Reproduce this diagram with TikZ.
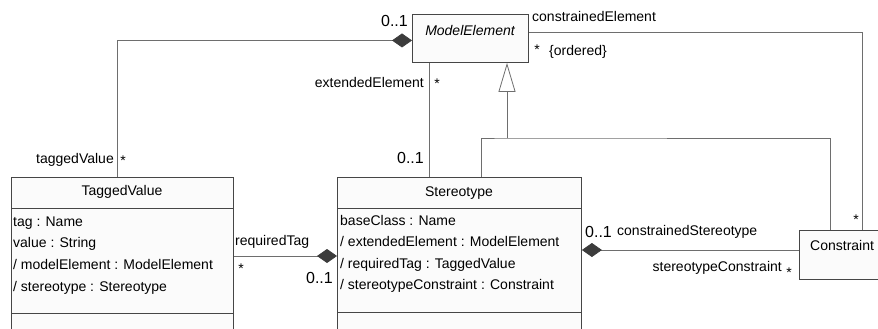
\documentclass[tikz,border=0pt]{standalone}
\usepackage{fontspec}
\setmainfont{Liberation Sans}
\usetikzlibrary{positioning,calc,arrows.meta}
\definecolor{boxline}  {RGB}{ 70, 70, 70}
\definecolor{wire}     {RGB}{110,110,110}
\definecolor{boxfill}  {RGB}{251,251,251}
\definecolor{diamond}  {RGB}{ 60, 60, 60}
\tikzset{%
  classbox/.style = {
    draw = boxline,
    fill = boxfill,
    line width = 0.9pt,
    anchor = north west,
    inner sep = 0pt,
  },
  classline/.style = {
    draw = boxline,
    line width = 0.9pt,
  },
  lbl/.style = {
    font = \fontsize{14}{16}\selectfont,
    inner sep = 0pt,
    text height = 10pt,
    text depth = 3pt,
  },
  mult/.style = {
    font = \fontsize{16}{18}\selectfont,
    inner sep = 0pt,
    text height = 11.5pt,
    text depth = 0pt,
  },
  star/.style = {
    font = \fontsize{14}{16}\selectfont,
    inner sep = 0pt,
  },
  attr/.style = {
    font = \fontsize{14}{16}\selectfont,
    inner sep = 0pt,
    anchor = base west,
  },
  assoc/.style = {
    draw = wire,
    line width = 0.8pt,
  },
  comp/.style = {
    assoc,
    {Diamond[length=20pt,width=14pt,fill=diamond,color=diamond]}-,
  },
  gen/.style = {
    assoc,
    -{Triangle[open,length=29pt,width=17pt,fill=white,color=wire]},
  },
}

\begin{document}
\begin{tikzpicture}[x=1pt, y=-1pt]
  \clip (0,0) rectangle (878,329);

  % classes
  \node[classbox, minimum width=116pt, minimum height=48pt] (me) at (412,14) {};
  \node[lbl, font=\fontsize{14}{16}\selectfont\itshape] (me-name) at (470,32) {ModelElement};

  \node[classbox, minimum width=222pt, minimum height=170pt] (tv) at (11,177) {};
  \node[lbl] (tv-name) at (122,192) {TaggedValue};
  \draw[classline] ([yshift=-31pt]tv.north west) -- ([yshift=-31pt]tv.north east);
  \draw[classline] ([yshift=-136pt]tv.north west) -- ([yshift=-136pt]tv.north east);
  \foreach \a [count=\i] in {tag : Name, value : String,
      / modelElement : ModelElement, / stereotype : Stereotype}
    \node[attr] (tv-a\i) at (13,{226+21.7*(\i-1)}) {\a};

  \node[classbox, minimum width=244pt, minimum height=170pt] (st) at (337,177) {};
  \node[lbl] (st-name) at (459,193) {Stereotype};
  \draw[classline] ([yshift=-31pt]st.north west) -- ([yshift=-31pt]st.north east);
  \draw[classline] ([yshift=-135pt]st.north west) -- ([yshift=-135pt]st.north east);
  \foreach \a [count=\i] in {baseClass : Name, / extendedElement : ModelElement,
      / requiredTag : TaggedValue, / stereotypeConstraint : Constraint}
    \node[attr] (st-a\i) at (340,{225+21.5*(\i-1)}) {\a};

  \node[classbox, minimum width=100pt, minimum height=49pt] (con) at (799,230) {};
  \node[lbl, anchor=west] (con-name) at (810,247) {Constraint};

  % associations
  \coordinate (tv-top) at ([xshift=106pt]tv.north west);
  \draw[comp] ([yshift=-2pt]me.west) -| (tv-top);

  \coordinate (ext-top) at ([xshift=17pt]me.south west);
  \draw[assoc] (ext-top) -- (ext-top |- st.north);

  \coordinate (ce-start) at ([yshift=6pt]me.east);
  \coordinate (ce-end) at ([xshift=63pt]con.north west);
  \draw[assoc] (ce-start) -| (ce-end);

  \coordinate (rt-end) at ([yshift=-79pt]tv.north east);
  \draw[comp] (rt-end -| st.west) -- (rt-end);

  \coordinate (cs-start) at ([yshift=-73pt]st.north east);
  \draw[comp] (cs-start) -- (cs-start -| con.west);

  % generalization
  \coordinate (gen-hub) at (507,138);
  \coordinate (gen-st) at ([xshift=144pt]st.north west);
  \coordinate (gen-con) at ([xshift=31pt]con.north west);
  \draw[gen] (gen-hub) -- (gen-hub |- me.south);
  \draw[assoc] (gen-st) |- (gen-hub) -| (gen-con);

  % role names and multiplicities
  \node[mult, anchor=east] (m-tv-me) at (408,21) {0..1};
  \node[lbl, anchor=east] (r-tv) at (114,160) {taggedValue};
  \node[star] (m-tv) at (123,161) {*};
  \node[lbl, anchor=east] (r-ext) at (424,84) {extendedElement};
  \node[star] (m-ext) at (437,84) {*};
  \node[mult, anchor=east] (m-st-ext) at (424,158) {0..1};
  \node[lbl, anchor=west] (r-ce) at (532,18) {constrainedElement};
  \node[star] (m-ce) at (537,50) {*};
  \node[lbl, anchor=west] (r-ord) at (549,52) {\{ordered\}};
  \node[lbl, anchor=west] (r-rt) at (235,242) {requiredTag};
  \node[star] (m-rt) at (241,269) {*};
  \node[mult, anchor=east] (m-st-rt) at (333,278) {0..1};
  \node[mult, anchor=west] (m-st-cs) at (585,232) {0..1};
  \node[lbl, anchor=west] (r-cs) at (617,232) {constrainedStereotype};
  \node[lbl, anchor=east] (r-sc) at (782,268) {stereotypeConstraint};
  \node[star] (m-sc) at (789,273) {*};
  \node[star] (m-con) at (856,220) {*};
\end{tikzpicture}
\end{document}
